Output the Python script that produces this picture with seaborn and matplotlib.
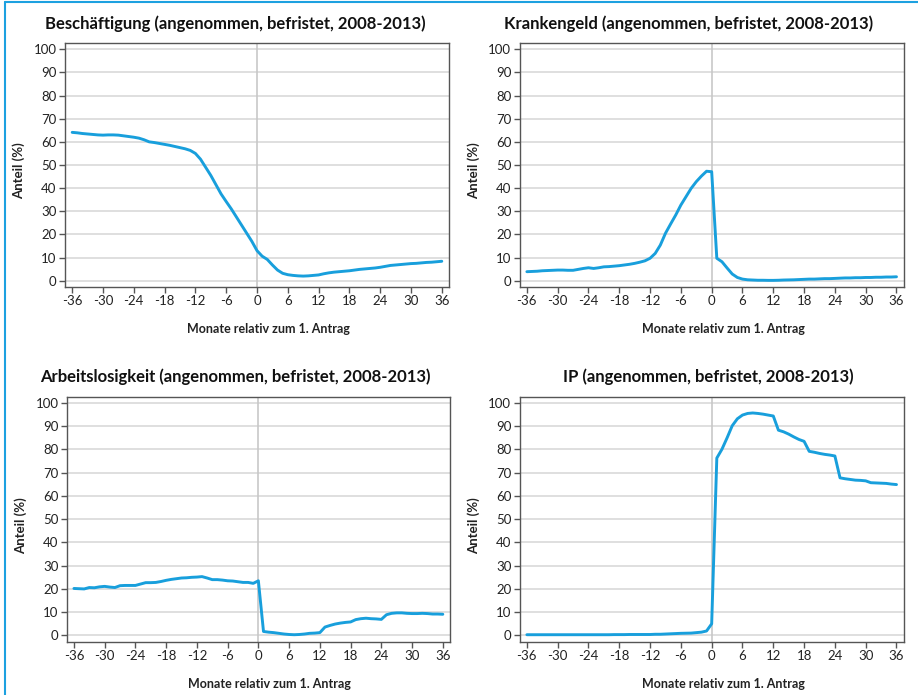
import numpy as np
import pandas as pd
import seaborn as sns
import matplotlib.pyplot as plt
from matplotlib.lines import Line2D

# %% data (Anteil in %, Monate -36..36 relativ zum 1. Antrag)
months = list(range(-36, 37))

beschaeftigung = [64.1, 63.9, 63.6, 63.4, 63.2, 63.0, 62.9, 63.0, 63.0, 62.9, 62.6, 62.3,
                  62.0, 61.6, 60.9, 60.0, 59.7, 59.3, 58.9, 58.5, 58.0, 57.5, 57.0, 56.3,
                  55.0, 52.5, 49.0, 45.5, 41.5, 37.5, 34.2, 31.0, 27.5, 24.0, 20.5, 17.0,
                  13.0, 10.6, 9.2, 6.8, 4.6, 3.2, 2.6, 2.3, 2.1, 2.0, 2.1, 2.3,
                  2.5, 3.0, 3.4, 3.7, 3.9, 4.1, 4.3, 4.6, 4.9, 5.1, 5.3, 5.5,
                  5.8, 6.2, 6.6, 6.8, 7.0, 7.2, 7.4, 7.5, 7.7, 7.9, 8.0, 8.2, 8.4]

krankengeld = [3.9, 4.0, 4.1, 4.3, 4.4, 4.5, 4.6, 4.6, 4.5, 4.5, 4.9, 5.3,
               5.6, 5.3, 5.6, 6.0, 6.1, 6.3, 6.5, 6.8, 7.1, 7.5, 8.0, 8.6,
               9.7, 11.8, 15.4, 20.5, 24.5, 28.4, 32.7, 36.3, 39.9, 42.8, 45.2, 47.3,
               47.1, 9.7, 8.2, 5.5, 2.9, 1.4, 0.7, 0.4, 0.3, 0.2, 0.2, 0.15,
               0.15, 0.2, 0.3, 0.35, 0.4, 0.5, 0.6, 0.7, 0.7, 0.8, 0.9, 0.9,
               1.0, 1.1, 1.2, 1.2, 1.3, 1.3, 1.4, 1.4, 1.5, 1.5, 1.6, 1.6, 1.7]

arbeitslosigkeit = [20.2, 20.1, 20.0, 20.6, 20.5, 20.9, 21.1, 20.8, 20.6, 21.4, 21.5, 21.5,
                    21.5, 22.1, 22.7, 22.7, 22.8, 23.2, 23.7, 24.1, 24.4, 24.7, 24.8, 25.0,
                    25.1, 25.3, 24.7, 24.0, 24.0, 23.8, 23.5, 23.4, 23.1, 22.8, 22.8, 22.4,
                    23.5, 1.7, 1.4, 1.2, 0.9, 0.6, 0.4, 0.3, 0.4, 0.6, 0.9, 1.0,
                    1.2, 3.6, 4.3, 4.9, 5.3, 5.6, 5.8, 6.8, 7.2, 7.4, 7.2, 7.1,
                    6.9, 8.9, 9.5, 9.7, 9.7, 9.5, 9.4, 9.4, 9.5, 9.4, 9.2, 9.2, 9.1]

ip = [0.3, 0.3, 0.3, 0.3, 0.3, 0.3, 0.3, 0.3, 0.3, 0.3, 0.3, 0.3,
      0.3, 0.3, 0.3, 0.3, 0.3, 0.35, 0.35, 0.35, 0.4, 0.4, 0.4, 0.4,
      0.4, 0.5, 0.5, 0.6, 0.7, 0.8, 0.9, 0.95, 1.0, 1.2, 1.4, 1.9,
      5.0, 76.3, 80.1, 85.0, 90.2, 93.2, 94.8, 95.5, 95.7, 95.5, 95.2, 94.8,
      94.4, 88.3, 87.6, 86.6, 85.4, 84.3, 83.5, 79.2, 78.8, 78.3, 77.9, 77.6,
      77.2, 67.8, 67.4, 67.1, 66.8, 66.7, 66.5, 65.7, 65.6, 65.5, 65.4, 65.1, 64.9]

titles = ['Beschäftigung (angenommen, befristet, 2008-2013)',
          'Krankengeld (angenommen, befristet, 2008-2013)',
          'Arbeitslosigkeit (angenommen, befristet, 2008-2013)',
          'IP (angenommen, befristet, 2008-2013)']
series = [beschaeftigung, krankengeld, arbeitslosigkeit, ip]
xticks = list(range(-36, 37, 6))
yticks = list(range(0, 101, 10))

# %% plot
sns.set_theme(style='whitegrid')
plt.rcParams['font.family'] = ['Lato', 'DejaVu Sans']
plt.rcParams['axes.unicode_minus'] = False

line_color = '#189fdc'
fig = plt.figure(figsize=(9.18, 6.95), dpi=100)

# axes boxes [left, bottom, width, height] and title x (axes fraction)
boxes = [[0.0708, 0.5871, 0.4183, 0.3510],
         [0.5661, 0.5871, 0.4183, 0.3510],
         [0.0727, 0.0767, 0.4175, 0.3525],
         [0.5661, 0.0767, 0.4183, 0.3525]]
title_x = [0.443, 0.441, 0.439, 0.490]

for box, values, title, tx in zip(boxes, series, titles, title_x):
    ax = fig.add_axes(box)
    df = pd.DataFrame({'Monat': months, 'Anteil': values})
    ax.axvline(0, color='#c8c8c8', lw=1.2, zorder=1)
    sns.lineplot(data=df, x='Monat', y='Anteil', ax=ax, color=line_color, lw=2.1, zorder=3)
    ax.set_xlim(-37.4, 37.4)
    ax.set_ylim(-2.7, 102.7)
    ax.set_xticks(xticks)
    ax.set_yticks(yticks)
    ax.grid(axis='x', visible=False)
    ax.grid(axis='y', color='#d9d9d9', lw=1.2)
    ax.tick_params(axis='both', which='major', length=4, width=1, color='#555555',
                   labelsize=9.5, labelcolor='#222222', pad=2, bottom=True, left=True)
    for s in ax.spines.values():
        s.set_color('#555555')
        s.set_linewidth(1.0)
    ax.set_xlabel('Monate relativ zum 1. Antrag', fontsize=9, fontweight='bold', color='#222222')
    ax.set_ylabel('Anteil (%)', fontsize=9.5, fontweight='bold', color='#222222')
    ax.xaxis.set_label_coords(0.53, -0.148)
    ax.yaxis.set_label_coords(-0.104, 0.475)
    ax.text(tx, 1.08, title, transform=ax.transAxes, ha='center', va='center',
            fontsize=12, fontweight='bold', color='#111111')

# light blue frame (top and left edge of the box)
fig.add_artist(Line2D([0.0055, 0.0055], [0, 0.997], transform=fig.transFigure, color='#1da1e0', lw=1.5))
fig.add_artist(Line2D([0.0055, 1], [0.997, 0.997], transform=fig.transFigure, color='#1da1e0', lw=1.5))

plt.savefig('out.png', dpi=100)
